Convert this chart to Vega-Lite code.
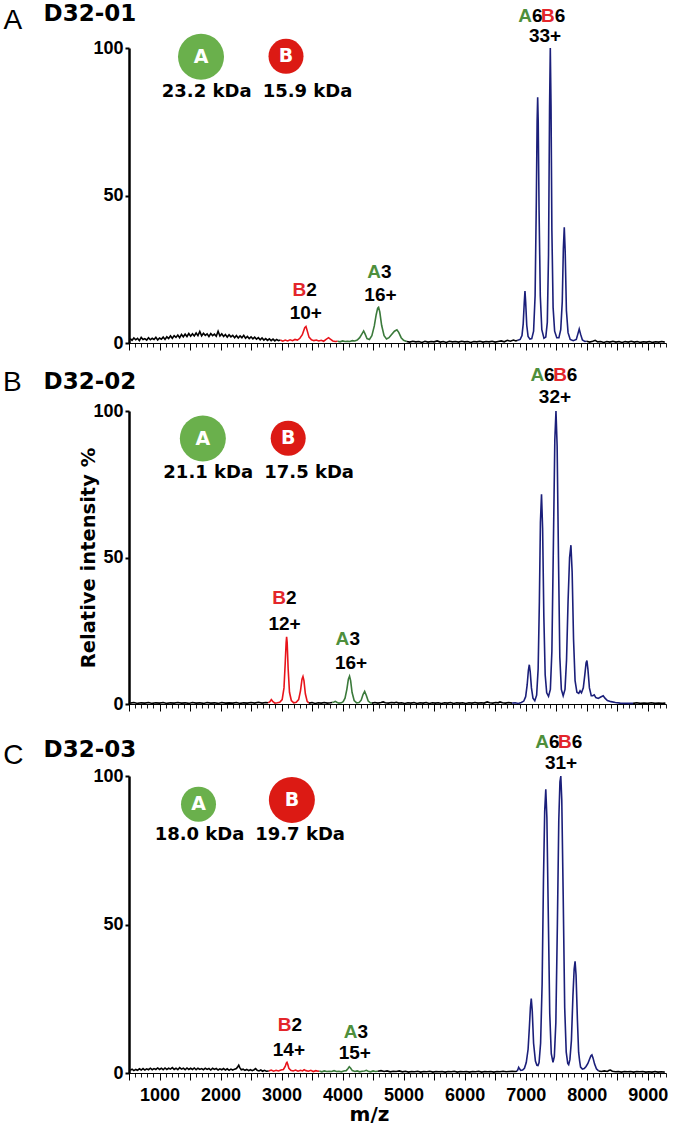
{
"$schema":"https://vega.github.io/schema/vega-lite/v6.json",
"background":"white",
"padding":{"left":3,"top":2,"right":2,"bottom":2},
"config":{"view":{"stroke":null},"axis":{"grid":false},"font":"Liberation Sans"},
"datasets":{
"sA":[
{"s":"n1","mz":520,"v":1.5},{"s":"n1","mz":550,"v":0.9},{"s":"n1","mz":580,"v":1.7},{"s":"n1","mz":610,"v":1.1},{"s":"n1","mz":640,"v":1.6},{"s":"n1","mz":670,"v":0.8},{"s":"n1","mz":700,"v":1.9},{"s":"n1","mz":730,"v":1.2},{"s":"n1","mz":760,"v":1.5},{"s":"n1","mz":790,"v":1.0},{"s":"n1","mz":820,"v":1.8},{"s":"n1","mz":850,"v":1.1},{"s":"n1","mz":880,"v":1.6},{"s":"n1","mz":910,"v":1.2},{"s":"n1","mz":940,"v":1.9},{"s":"n1","mz":970,"v":1.0},{"s":"n1","mz":1000,"v":1.7},{"s":"n1","mz":1030,"v":1.3},{"s":"n1","mz":1060,"v":2.0},{"s":"n1","mz":1090,"v":1.2},{"s":"n1","mz":1120,"v":2.1},{"s":"n1","mz":1150,"v":1.5},{"s":"n1","mz":1180,"v":2.4},{"s":"n1","mz":1210,"v":1.6},{"s":"n1","mz":1240,"v":2.5},{"s":"n1","mz":1270,"v":1.9},{"s":"n1","mz":1300,"v":2.7},{"s":"n1","mz":1330,"v":1.8},{"s":"n1","mz":1360,"v":2.9},{"s":"n1","mz":1390,"v":2.1},{"s":"n1","mz":1420,"v":3.0},{"s":"n1","mz":1450,"v":2.2},{"s":"n1","mz":1480,"v":3.2},{"s":"n1","mz":1510,"v":2.3},{"s":"n1","mz":1540,"v":3.1},{"s":"n1","mz":1570,"v":2.4},{"s":"n1","mz":1600,"v":3.4},{"s":"n1","mz":1630,"v":2.5},{"s":"n1","mz":1660,"v":3.9},{"s":"n1","mz":1690,"v":2.4},{"s":"n1","mz":1720,"v":3.3},{"s":"n1","mz":1750,"v":2.6},{"s":"n1","mz":1780,"v":3.1},{"s":"n1","mz":1810,"v":2.2},{"s":"n1","mz":1840,"v":3.2},{"s":"n1","mz":1870,"v":2.5},{"s":"n1","mz":1900,"v":3.0},{"s":"n1","mz":1930,"v":2.3},{"s":"n1","mz":1960,"v":4.0},{"s":"n1","mz":1990,"v":2.4},{"s":"n1","mz":2020,"v":3.1},{"s":"n1","mz":2050,"v":2.2},{"s":"n1","mz":2080,"v":2.9},{"s":"n1","mz":2110,"v":2.0},{"s":"n1","mz":2140,"v":2.8},{"s":"n1","mz":2170,"v":2.1},{"s":"n1","mz":2200,"v":2.6},{"s":"n1","mz":2230,"v":1.8},{"s":"n1","mz":2260,"v":2.5},{"s":"n1","mz":2290,"v":1.7},{"s":"n1","mz":2320,"v":2.4},{"s":"n1","mz":2350,"v":1.8},{"s":"n1","mz":2380,"v":2.6},{"s":"n1","mz":2410,"v":1.6},{"s":"n1","mz":2440,"v":2.2},{"s":"n1","mz":2470,"v":1.5},{"s":"n1","mz":2500,"v":2.1},{"s":"n1","mz":2530,"v":1.4},{"s":"n1","mz":2560,"v":2.0},{"s":"n1","mz":2590,"v":1.3},{"s":"n1","mz":2620,"v":1.8},{"s":"n1","mz":2650,"v":1.1},{"s":"n1","mz":2680,"v":1.7},{"s":"n1","mz":2710,"v":1.0},{"s":"n1","mz":2740,"v":1.5},{"s":"n1","mz":2770,"v":0.9},{"s":"n1","mz":2800,"v":1.4},{"s":"n1","mz":2830,"v":0.8},{"s":"n1","mz":2860,"v":1.3},{"s":"n1","mz":2890,"v":0.7},{"s":"n1","mz":2920,"v":1.2},{"s":"n1","mz":2950,"v":0.8},{"s":"n1","mz":2980,"v":1.0},
{"s":"B2","mz":2980,"v":1.0},{"s":"B2","mz":3020,"v":0.6},{"s":"B2","mz":3060,"v":1.0},{"s":"B2","mz":3100,"v":0.7},{"s":"B2","mz":3140,"v":1.1},{"s":"B2","mz":3180,"v":0.8},{"s":"B2","mz":3220,"v":1.2},{"s":"B2","mz":3260,"v":1.0},{"s":"B2","mz":3300,"v":1.6},{"s":"B2","mz":3340,"v":2.8},{"s":"B2","mz":3380,"v":5.2},{"s":"B2","mz":3400,"v":5.6},{"s":"B2","mz":3420,"v":4.2},{"s":"B2","mz":3450,"v":2.0},{"s":"B2","mz":3490,"v":1.1},{"s":"B2","mz":3530,"v":0.8},{"s":"B2","mz":3570,"v":1.0},{"s":"B2","mz":3610,"v":0.7},{"s":"B2","mz":3650,"v":0.9},{"s":"B2","mz":3690,"v":0.6},{"s":"B2","mz":3730,"v":1.2},{"s":"B2","mz":3770,"v":1.8},{"s":"B2","mz":3800,"v":1.3},{"s":"B2","mz":3840,"v":0.7},{"s":"B2","mz":3880,"v":0.5},{"s":"B2","mz":3920,"v":0.6},
{"s":"A3","mz":3920,"v":0.6},{"s":"A3","mz":3960,"v":0.4},{"s":"A3","mz":4000,"v":0.7},{"s":"A3","mz":4040,"v":0.5},{"s":"A3","mz":4080,"v":0.6},{"s":"A3","mz":4120,"v":0.5},{"s":"A3","mz":4160,"v":0.8},{"s":"A3","mz":4200,"v":0.7},{"s":"A3","mz":4240,"v":1.0},{"s":"A3","mz":4280,"v":1.8},{"s":"A3","mz":4320,"v":3.2},{"s":"A3","mz":4345,"v":4.1},{"s":"A3","mz":4370,"v":3.0},{"s":"A3","mz":4400,"v":1.5},{"s":"A3","mz":4440,"v":1.2},{"s":"A3","mz":4480,"v":2.5},{"s":"A3","mz":4520,"v":5.8},{"s":"A3","mz":4550,"v":9.5},{"s":"A3","mz":4575,"v":11.8},{"s":"A3","mz":4590,"v":12.1},{"s":"A3","mz":4610,"v":10.5},{"s":"A3","mz":4640,"v":6.0},{"s":"A3","mz":4680,"v":2.5},{"s":"A3","mz":4720,"v":1.4},{"s":"A3","mz":4760,"v":1.8},{"s":"A3","mz":4800,"v":2.8},{"s":"A3","mz":4850,"v":4.0},{"s":"A3","mz":4890,"v":4.5},{"s":"A3","mz":4920,"v":3.6},{"s":"A3","mz":4960,"v":1.8},{"s":"A3","mz":5000,"v":0.9},{"s":"A3","mz":5050,"v":0.5},
{"s":"n2","mz":5050,"v":0.5},{"s":"n2","mz":5100,"v":0.3},{"s":"n2","mz":5150,"v":0.6},{"s":"n2","mz":5200,"v":0.4},{"s":"n2","mz":5250,"v":0.5},{"s":"n2","mz":5300,"v":0.2},{"s":"n2","mz":5350,"v":0.6},{"s":"n2","mz":5400,"v":0.3},{"s":"n2","mz":5450,"v":0.5},{"s":"n2","mz":5500,"v":0.4},{"s":"n2","mz":5550,"v":0.7},{"s":"n2","mz":5600,"v":0.3},{"s":"n2","mz":5650,"v":0.5},{"s":"n2","mz":5700,"v":0.2},{"s":"n2","mz":5750,"v":0.6},{"s":"n2","mz":5800,"v":0.4},{"s":"n2","mz":5850,"v":0.5},{"s":"n2","mz":5900,"v":0.3},{"s":"n2","mz":5950,"v":0.6},{"s":"n2","mz":6000,"v":0.4},{"s":"n2","mz":6050,"v":0.5},{"s":"n2","mz":6100,"v":0.2},{"s":"n2","mz":6150,"v":0.5},{"s":"n2","mz":6200,"v":0.4},{"s":"n2","mz":6250,"v":0.6},{"s":"n2","mz":6300,"v":0.3},{"s":"n2","mz":6350,"v":0.5},{"s":"n2","mz":6400,"v":0.4},{"s":"n2","mz":6450,"v":0.6},{"s":"n2","mz":6500,"v":0.3},{"s":"n2","mz":6550,"v":0.5},{"s":"n2","mz":6600,"v":0.7},{"s":"n2","mz":6650,"v":0.4},{"s":"n2","mz":6700,"v":0.9},{"s":"n2","mz":6750,"v":0.6},{"s":"n2","mz":6800,"v":1.0},{"s":"n2","mz":6840,"v":0.7},{"s":"n2","mz":6870,"v":0.9},
{"s":"AB","mz":6870,"v":0.9},{"s":"AB","mz":6910,"v":1.2},{"s":"AB","mz":6940,"v":2.5},{"s":"AB","mz":6960,"v":6.5},{"s":"AB","mz":6978,"v":14.0},{"s":"AB","mz":6989,"v":17.6},{"s":"AB","mz":7000,"v":14.0},{"s":"AB","mz":7018,"v":6.0},{"s":"AB","mz":7040,"v":2.2},{"s":"AB","mz":7070,"v":1.3},{"s":"AB","mz":7100,"v":1.5},{"s":"AB","mz":7130,"v":4.0},{"s":"AB","mz":7155,"v":16.0},{"s":"AB","mz":7175,"v":48.0},{"s":"AB","mz":7188,"v":75.0},{"s":"AB","mz":7197,"v":83.3},{"s":"AB","mz":7206,"v":75.0},{"s":"AB","mz":7220,"v":45.0},{"s":"AB","mz":7240,"v":16.0},{"s":"AB","mz":7265,"v":4.5},{"s":"AB","mz":7300,"v":1.6},{"s":"AB","mz":7330,"v":2.0},{"s":"AB","mz":7355,"v":7.0},{"s":"AB","mz":7375,"v":30.0},{"s":"AB","mz":7392,"v":80.0},{"s":"AB","mz":7404,"v":100},{"s":"AB","mz":7416,"v":80.0},{"s":"AB","mz":7430,"v":38.0},{"s":"AB","mz":7450,"v":12.0},{"s":"AB","mz":7475,"v":4.0},{"s":"AB","mz":7510,"v":1.8},{"s":"AB","mz":7545,"v":1.8},{"s":"AB","mz":7575,"v":4.5},{"s":"AB","mz":7600,"v":14.0},{"s":"AB","mz":7618,"v":32.0},{"s":"AB","mz":7633,"v":39.2},{"s":"AB","mz":7648,"v":31.0},{"s":"AB","mz":7668,"v":11.0},{"s":"AB","mz":7695,"v":3.5},{"s":"AB","mz":7730,"v":1.2},{"s":"AB","mz":7780,"v":0.8},{"s":"AB","mz":7830,"v":1.2},{"s":"AB","mz":7855,"v":3.0},{"s":"AB","mz":7878,"v":4.7},{"s":"AB","mz":7900,"v":3.0},{"s":"AB","mz":7930,"v":1.0},{"s":"AB","mz":7970,"v":0.5},{"s":"AB","mz":8000,"v":0.6},
{"s":"n3","mz":8000,"v":0.6},{"s":"n3","mz":8050,"v":0.3},{"s":"n3","mz":8100,"v":0.6},{"s":"n3","mz":8140,"v":0.9},{"s":"n3","mz":8180,"v":0.4},{"s":"n3","mz":8230,"v":0.5},{"s":"n3","mz":8280,"v":0.2},{"s":"n3","mz":8330,"v":0.5},{"s":"n3","mz":8380,"v":0.3},{"s":"n3","mz":8430,"v":0.6},{"s":"n3","mz":8480,"v":0.3},{"s":"n3","mz":8530,"v":0.5},{"s":"n3","mz":8580,"v":0.2},{"s":"n3","mz":8630,"v":0.5},{"s":"n3","mz":8680,"v":0.3},{"s":"n3","mz":8730,"v":0.6},{"s":"n3","mz":8780,"v":0.3},{"s":"n3","mz":8830,"v":0.5},{"s":"n3","mz":8880,"v":0.2},{"s":"n3","mz":8930,"v":0.4},{"s":"n3","mz":8980,"v":0.3},{"s":"n3","mz":9030,"v":0.5},{"s":"n3","mz":9080,"v":0.2},{"s":"n3","mz":9130,"v":0.4},{"s":"n3","mz":9180,"v":0.3},{"s":"n3","mz":9230,"v":0.5},{"s":"n3","mz":9280,"v":0.3}
],
"sB":[
{"s":"n1","mz":520,"v":0.3},{"s":"n1","mz":580,"v":0.5},{"s":"n1","mz":640,"v":0.2},{"s":"n1","mz":700,"v":0.4},{"s":"n1","mz":760,"v":0.3},{"s":"n1","mz":820,"v":0.5},{"s":"n1","mz":880,"v":0.2},{"s":"n1","mz":940,"v":0.4},{"s":"n1","mz":1000,"v":0.3},{"s":"n1","mz":1060,"v":0.5},{"s":"n1","mz":1120,"v":0.2},{"s":"n1","mz":1180,"v":0.4},{"s":"n1","mz":1240,"v":0.3},{"s":"n1","mz":1300,"v":0.5},{"s":"n1","mz":1360,"v":0.3},{"s":"n1","mz":1420,"v":0.4},{"s":"n1","mz":1480,"v":0.2},{"s":"n1","mz":1540,"v":0.5},{"s":"n1","mz":1600,"v":0.3},{"s":"n1","mz":1660,"v":0.4},{"s":"n1","mz":1720,"v":0.2},{"s":"n1","mz":1780,"v":0.5},{"s":"n1","mz":1840,"v":0.3},{"s":"n1","mz":1900,"v":0.4},{"s":"n1","mz":1960,"v":0.2},{"s":"n1","mz":2020,"v":0.5},{"s":"n1","mz":2080,"v":0.3},{"s":"n1","mz":2140,"v":0.4},{"s":"n1","mz":2200,"v":0.3},{"s":"n1","mz":2260,"v":0.5},{"s":"n1","mz":2320,"v":0.2},{"s":"n1","mz":2380,"v":0.4},{"s":"n1","mz":2440,"v":0.3},{"s":"n1","mz":2500,"v":0.5},{"s":"n1","mz":2560,"v":0.3},{"s":"n1","mz":2620,"v":0.6},{"s":"n1","mz":2680,"v":0.3},{"s":"n1","mz":2740,"v":0.5},{"s":"n1","mz":2780,"v":0.4},
{"s":"B2","mz":2780,"v":0.4},{"s":"B2","mz":2810,"v":0.8},{"s":"B2","mz":2832,"v":1.5},{"s":"B2","mz":2855,"v":0.9},{"s":"B2","mz":2890,"v":0.3},{"s":"B2","mz":2930,"v":0.4},{"s":"B2","mz":2970,"v":0.6},{"s":"B2","mz":3010,"v":1.5},{"s":"B2","mz":3040,"v":5.5},{"s":"B2","mz":3060,"v":14.0},{"s":"B2","mz":3075,"v":21.0},{"s":"B2","mz":3083,"v":22.9},{"s":"B2","mz":3092,"v":21.0},{"s":"B2","mz":3108,"v":12.0},{"s":"B2","mz":3130,"v":4.0},{"s":"B2","mz":3160,"v":1.2},{"s":"B2","mz":3200,"v":0.4},{"s":"B2","mz":3240,"v":0.6},{"s":"B2","mz":3280,"v":1.5},{"s":"B2","mz":3310,"v":4.5},{"s":"B2","mz":3335,"v":8.5},{"s":"B2","mz":3351,"v":9.4},{"s":"B2","mz":3367,"v":8.0},{"s":"B2","mz":3390,"v":3.5},{"s":"B2","mz":3420,"v":0.9},{"s":"B2","mz":3450,"v":0.3},
{"s":"n2","mz":3450,"v":0.3},{"s":"n2","mz":3500,"v":0.5},{"s":"n2","mz":3550,"v":0.2},{"s":"n2","mz":3600,"v":0.4},{"s":"n2","mz":3650,"v":0.3},{"s":"n2","mz":3700,"v":0.5},{"s":"n2","mz":3750,"v":0.3},{"s":"n2","mz":3800,"v":0.4},{"s":"n2","mz":3830,"v":0.5},
{"s":"A3","mz":3830,"v":0.5},{"s":"A3","mz":3860,"v":0.7},{"s":"A3","mz":3880,"v":0.9},{"s":"A3","mz":3905,"v":0.6},{"s":"A3","mz":3940,"v":0.3},{"s":"A3","mz":3980,"v":0.4},{"s":"A3","mz":4010,"v":0.8},{"s":"A3","mz":4040,"v":2.0},{"s":"A3","mz":4070,"v":5.0},{"s":"A3","mz":4095,"v":8.5},{"s":"A3","mz":4114,"v":9.5},{"s":"A3","mz":4132,"v":8.0},{"s":"A3","mz":4155,"v":4.0},{"s":"A3","mz":4190,"v":1.2},{"s":"A3","mz":4230,"v":0.4},{"s":"A3","mz":4270,"v":0.5},{"s":"A3","mz":4305,"v":1.3},{"s":"A3","mz":4335,"v":3.2},{"s":"A3","mz":4362,"v":4.3},{"s":"A3","mz":4388,"v":3.0},{"s":"A3","mz":4420,"v":1.0},{"s":"A3","mz":4455,"v":0.4},{"s":"A3","mz":4480,"v":0.3},
{"s":"n3","mz":4480,"v":0.3},{"s":"n3","mz":4530,"v":0.5},{"s":"n3","mz":4580,"v":0.3},{"s":"n3","mz":4630,"v":0.5},{"s":"n3","mz":4665,"v":0.7},{"s":"n3","mz":4700,"v":0.4},{"s":"n3","mz":4750,"v":0.3},{"s":"n3","mz":4800,"v":0.5},{"s":"n3","mz":4850,"v":0.4},{"s":"n3","mz":4880,"v":0.6},{"s":"n3","mz":4920,"v":0.3},{"s":"n3","mz":4970,"v":0.4},{"s":"n3","mz":5020,"v":0.2},{"s":"n3","mz":5070,"v":0.4},{"s":"n3","mz":5120,"v":0.3},{"s":"n3","mz":5170,"v":0.5},{"s":"n3","mz":5220,"v":0.2},{"s":"n3","mz":5270,"v":0.4},{"s":"n3","mz":5320,"v":0.3},{"s":"n3","mz":5370,"v":0.5},{"s":"n3","mz":5420,"v":0.2},{"s":"n3","mz":5470,"v":0.4},{"s":"n3","mz":5520,"v":0.3},{"s":"n3","mz":5570,"v":0.4},{"s":"n3","mz":5620,"v":0.2},{"s":"n3","mz":5670,"v":0.4},{"s":"n3","mz":5720,"v":0.3},{"s":"n3","mz":5770,"v":0.5},{"s":"n3","mz":5820,"v":0.2},{"s":"n3","mz":5870,"v":0.4},{"s":"n3","mz":5920,"v":0.3},{"s":"n3","mz":5970,"v":0.4},{"s":"n3","mz":6020,"v":0.2},{"s":"n3","mz":6070,"v":0.4},{"s":"n3","mz":6120,"v":0.3},{"s":"n3","mz":6170,"v":0.5},{"s":"n3","mz":6220,"v":0.3},{"s":"n3","mz":6270,"v":0.4},{"s":"n3","mz":6320,"v":0.3},{"s":"n3","mz":6370,"v":0.7},{"s":"n3","mz":6410,"v":0.4},{"s":"n3","mz":6460,"v":0.3},{"s":"n3","mz":6510,"v":0.5},{"s":"n3","mz":6550,"v":0.4},{"s":"n3","mz":6580,"v":0.7},{"s":"n3","mz":6620,"v":0.4},{"s":"n3","mz":6670,"v":0.3},{"s":"n3","mz":6720,"v":0.5},{"s":"n3","mz":6780,"v":0.3},
{"s":"AB","mz":6780,"v":0.3},{"s":"AB","mz":6830,"v":0.4},{"s":"AB","mz":6880,"v":0.2},{"s":"AB","mz":6930,"v":0.5},{"s":"AB","mz":6970,"v":1.0},{"s":"AB","mz":7000,"v":2.5},{"s":"AB","mz":7025,"v":6.5},{"s":"AB","mz":7045,"v":11.5},{"s":"AB","mz":7060,"v":13.4},{"s":"AB","mz":7075,"v":11.0},{"s":"AB","mz":7095,"v":5.5},{"s":"AB","mz":7120,"v":2.0},{"s":"AB","mz":7150,"v":1.1},{"s":"AB","mz":7180,"v":3.0},{"s":"AB","mz":7205,"v":12.0},{"s":"AB","mz":7225,"v":35.0},{"s":"AB","mz":7242,"v":62.0},{"s":"AB","mz":7260,"v":71.6},{"s":"AB","mz":7278,"v":60.0},{"s":"AB","mz":7298,"v":30.0},{"s":"AB","mz":7320,"v":10.0},{"s":"AB","mz":7345,"v":3.8},{"s":"AB","mz":7375,"v":2.6},{"s":"AB","mz":7405,"v":5.0},{"s":"AB","mz":7430,"v":18.0},{"s":"AB","mz":7455,"v":55.0},{"s":"AB","mz":7478,"v":90.0},{"s":"AB","mz":7497,"v":100},{"s":"AB","mz":7516,"v":88.0},{"s":"AB","mz":7538,"v":50.0},{"s":"AB","mz":7560,"v":16.0},{"s":"AB","mz":7585,"v":5.0},{"s":"AB","mz":7615,"v":2.8},{"s":"AB","mz":7645,"v":5.0},{"s":"AB","mz":7670,"v":15.0},{"s":"AB","mz":7695,"v":35.0},{"s":"AB","mz":7720,"v":50.0},{"s":"AB","mz":7742,"v":54.2},{"s":"AB","mz":7762,"v":45.0},{"s":"AB","mz":7785,"v":22.0},{"s":"AB","mz":7810,"v":8.0},{"s":"AB","mz":7840,"v":4.0},{"s":"AB","mz":7870,"v":3.6},{"s":"AB","mz":7892,"v":4.5},{"s":"AB","mz":7915,"v":3.8},{"s":"AB","mz":7945,"v":5.5},{"s":"AB","mz":7970,"v":10.0},{"s":"AB","mz":7990,"v":14.0},{"s":"AB","mz":8004,"v":14.8},{"s":"AB","mz":8020,"v":12.0},{"s":"AB","mz":8045,"v":5.5},{"s":"AB","mz":8075,"v":2.8},{"s":"AB","mz":8100,"v":2.8},{"s":"AB","mz":8124,"v":3.1},{"s":"AB","mz":8150,"v":2.2},{"s":"AB","mz":8190,"v":1.9},{"s":"AB","mz":8230,"v":2.4},{"s":"AB","mz":8271,"v":2.8},{"s":"AB","mz":8300,"v":2.0},{"s":"AB","mz":8340,"v":1.2},{"s":"AB","mz":8400,"v":0.8},{"s":"AB","mz":8470,"v":0.5},{"s":"AB","mz":8550,"v":0.3},{"s":"AB","mz":8650,"v":0.2},{"s":"AB","mz":8760,"v":0.2},
{"s":"n4","mz":8760,"v":0.2},{"s":"n4","mz":8820,"v":0.4},{"s":"n4","mz":8880,"v":0.2},{"s":"n4","mz":8940,"v":0.3},{"s":"n4","mz":9000,"v":0.2},{"s":"n4","mz":9060,"v":0.4},{"s":"n4","mz":9120,"v":0.2},{"s":"n4","mz":9180,"v":0.3},{"s":"n4","mz":9240,"v":0.2},{"s":"n4","mz":9290,"v":0.3}
],
"sC":[
{"s":"n1","mz":520,"v":0.9},{"s":"n1","mz":550,"v":1.3},{"s":"n1","mz":580,"v":0.8},{"s":"n1","mz":610,"v":1.2},{"s":"n1","mz":640,"v":0.9},{"s":"n1","mz":670,"v":1.4},{"s":"n1","mz":700,"v":1.0},{"s":"n1","mz":730,"v":1.5},{"s":"n1","mz":760,"v":1.0},{"s":"n1","mz":790,"v":1.4},{"s":"n1","mz":820,"v":1.1},{"s":"n1","mz":850,"v":1.6},{"s":"n1","mz":880,"v":1.1},{"s":"n1","mz":910,"v":1.5},{"s":"n1","mz":940,"v":1.2},{"s":"n1","mz":970,"v":1.7},{"s":"n1","mz":1000,"v":1.2},{"s":"n1","mz":1030,"v":1.6},{"s":"n1","mz":1060,"v":1.1},{"s":"n1","mz":1090,"v":1.7},{"s":"n1","mz":1120,"v":1.2},{"s":"n1","mz":1150,"v":1.6},{"s":"n1","mz":1180,"v":1.3},{"s":"n1","mz":1210,"v":1.8},{"s":"n1","mz":1240,"v":1.2},{"s":"n1","mz":1270,"v":1.6},{"s":"n1","mz":1300,"v":1.1},{"s":"n1","mz":1330,"v":1.8},{"s":"n1","mz":1360,"v":1.3},{"s":"n1","mz":1390,"v":1.6},{"s":"n1","mz":1420,"v":1.1},{"s":"n1","mz":1450,"v":1.7},{"s":"n1","mz":1480,"v":1.2},{"s":"n1","mz":1510,"v":1.6},{"s":"n1","mz":1540,"v":1.2},{"s":"n1","mz":1570,"v":1.7},{"s":"n1","mz":1600,"v":1.1},{"s":"n1","mz":1630,"v":1.6},{"s":"n1","mz":1660,"v":1.2},{"s":"n1","mz":1690,"v":1.5},{"s":"n1","mz":1720,"v":1.1},{"s":"n1","mz":1750,"v":1.6},{"s":"n1","mz":1780,"v":1.2},{"s":"n1","mz":1810,"v":1.5},{"s":"n1","mz":1840,"v":1.0},{"s":"n1","mz":1870,"v":1.6},{"s":"n1","mz":1900,"v":1.2},{"s":"n1","mz":1930,"v":1.5},{"s":"n1","mz":1960,"v":1.0},{"s":"n1","mz":1990,"v":1.4},{"s":"n1","mz":2020,"v":1.1},{"s":"n1","mz":2050,"v":1.5},{"s":"n1","mz":2080,"v":1.0},{"s":"n1","mz":2110,"v":1.4},{"s":"n1","mz":2140,"v":0.9},{"s":"n1","mz":2170,"v":1.3},{"s":"n1","mz":2200,"v":1.0},{"s":"n1","mz":2230,"v":1.3},{"s":"n1","mz":2260,"v":1.5},{"s":"n1","mz":2285,"v":2.2},{"s":"n1","mz":2298,"v":2.6},{"s":"n1","mz":2315,"v":1.8},{"s":"n1","mz":2340,"v":1.1},{"s":"n1","mz":2370,"v":1.3},{"s":"n1","mz":2400,"v":0.9},{"s":"n1","mz":2430,"v":1.2},{"s":"n1","mz":2460,"v":0.8},{"s":"n1","mz":2490,"v":1.1},{"s":"n1","mz":2520,"v":0.8},{"s":"n1","mz":2550,"v":1.1},{"s":"n1","mz":2575,"v":1.5},{"s":"n1","mz":2600,"v":0.9},{"s":"n1","mz":2630,"v":0.7},{"s":"n1","mz":2660,"v":1.0},{"s":"n1","mz":2690,"v":0.6},{"s":"n1","mz":2720,"v":0.9},{"s":"n1","mz":2750,"v":0.6},{"s":"n1","mz":2790,"v":0.7},
{"s":"B2","mz":2790,"v":0.7},{"s":"B2","mz":2830,"v":1.0},{"s":"B2","mz":2870,"v":0.6},{"s":"B2","mz":2910,"v":0.9},{"s":"B2","mz":2950,"v":0.7},{"s":"B2","mz":2990,"v":1.0},{"s":"B2","mz":3030,"v":1.2},{"s":"B2","mz":3060,"v":2.2},{"s":"B2","mz":3078,"v":3.3},{"s":"B2","mz":3089,"v":3.6},{"s":"B2","mz":3100,"v":3.0},{"s":"B2","mz":3120,"v":1.6},{"s":"B2","mz":3150,"v":0.9},{"s":"B2","mz":3190,"v":0.7},{"s":"B2","mz":3230,"v":1.0},{"s":"B2","mz":3270,"v":0.6},{"s":"B2","mz":3310,"v":0.9},{"s":"B2","mz":3345,"v":0.7},{"s":"B2","mz":3370,"v":1.1},{"s":"B2","mz":3400,"v":0.8},{"s":"B2","mz":3440,"v":0.6},{"s":"B2","mz":3480,"v":0.9},{"s":"B2","mz":3520,"v":0.5},{"s":"B2","mz":3560,"v":0.8},{"s":"B2","mz":3600,"v":0.6},{"s":"B2","mz":3620,"v":0.7},
{"s":"A3","mz":3620,"v":0.7},{"s":"A3","mz":3660,"v":0.4},{"s":"A3","mz":3700,"v":0.7},{"s":"A3","mz":3740,"v":0.5},{"s":"A3","mz":3780,"v":0.6},{"s":"A3","mz":3820,"v":0.5},{"s":"A3","mz":3860,"v":0.8},{"s":"A3","mz":3900,"v":0.5},{"s":"A3","mz":3940,"v":0.6},{"s":"A3","mz":3980,"v":0.4},{"s":"A3","mz":4020,"v":0.7},{"s":"A3","mz":4060,"v":0.8},{"s":"A3","mz":4090,"v":1.5},{"s":"A3","mz":4110,"v":2.1},{"s":"A3","mz":4130,"v":1.7},{"s":"A3","mz":4160,"v":0.8},{"s":"A3","mz":4200,"v":0.5},{"s":"A3","mz":4240,"v":0.7},{"s":"A3","mz":4280,"v":0.4},{"s":"A3","mz":4320,"v":0.6},{"s":"A3","mz":4360,"v":0.7},{"s":"A3","mz":4390,"v":0.9},{"s":"A3","mz":4420,"v":0.6},{"s":"A3","mz":4460,"v":0.4},{"s":"A3","mz":4500,"v":0.7},{"s":"A3","mz":4540,"v":0.5},{"s":"A3","mz":4580,"v":0.6},
{"s":"n2","mz":4580,"v":0.6},{"s":"n2","mz":4630,"v":0.8},{"s":"n2","mz":4680,"v":0.5},{"s":"n2","mz":4730,"v":0.7},{"s":"n2","mz":4780,"v":0.4},{"s":"n2","mz":4830,"v":0.6},{"s":"n2","mz":4880,"v":0.5},{"s":"n2","mz":4930,"v":0.7},{"s":"n2","mz":4980,"v":0.4},{"s":"n2","mz":5030,"v":0.6},{"s":"n2","mz":5080,"v":0.3},{"s":"n2","mz":5130,"v":0.5},{"s":"n2","mz":5180,"v":0.4},{"s":"n2","mz":5230,"v":0.6},{"s":"n2","mz":5280,"v":0.3},{"s":"n2","mz":5330,"v":0.5},{"s":"n2","mz":5380,"v":0.4},{"s":"n2","mz":5430,"v":0.6},{"s":"n2","mz":5480,"v":0.3},{"s":"n2","mz":5530,"v":0.5},{"s":"n2","mz":5580,"v":0.4},{"s":"n2","mz":5630,"v":0.5},{"s":"n2","mz":5680,"v":0.3},{"s":"n2","mz":5730,"v":0.5},{"s":"n2","mz":5780,"v":0.4},{"s":"n2","mz":5830,"v":0.6},{"s":"n2","mz":5880,"v":0.3},{"s":"n2","mz":5930,"v":0.5},{"s":"n2","mz":5980,"v":0.4},{"s":"n2","mz":6030,"v":0.5},{"s":"n2","mz":6080,"v":0.3},{"s":"n2","mz":6130,"v":0.5},{"s":"n2","mz":6180,"v":0.4},{"s":"n2","mz":6230,"v":0.6},{"s":"n2","mz":6280,"v":0.3},{"s":"n2","mz":6330,"v":0.5},{"s":"n2","mz":6380,"v":0.4},{"s":"n2","mz":6430,"v":0.5},{"s":"n2","mz":6480,"v":0.3},{"s":"n2","mz":6530,"v":0.5},{"s":"n2","mz":6580,"v":0.4},{"s":"n2","mz":6630,"v":0.6},{"s":"n2","mz":6680,"v":0.4},{"s":"n2","mz":6730,"v":0.5},{"s":"n2","mz":6780,"v":0.6},{"s":"n2","mz":6830,"v":0.5},{"s":"n2","mz":6860,"v":0.6},
{"s":"AB","mz":6860,"v":0.6},{"s":"AB","mz":6875,"v":1.3},{"s":"AB","mz":6886,"v":1.9},{"s":"AB","mz":6900,"v":1.4},{"s":"AB","mz":6920,"v":0.9},{"s":"AB","mz":6950,"v":1.0},{"s":"AB","mz":6980,"v":1.6},{"s":"AB","mz":7010,"v":3.5},{"s":"AB","mz":7040,"v":8.0},{"s":"AB","mz":7060,"v":15.0},{"s":"AB","mz":7078,"v":22.0},{"s":"AB","mz":7092,"v":25.1},{"s":"AB","mz":7108,"v":21.0},{"s":"AB","mz":7130,"v":10.0},{"s":"AB","mz":7160,"v":4.0},{"s":"AB","mz":7185,"v":2.6},{"s":"AB","mz":7202,"v":2.5},{"s":"AB","mz":7220,"v":3.5},{"s":"AB","mz":7245,"v":10.0},{"s":"AB","mz":7270,"v":30.0},{"s":"AB","mz":7292,"v":65.0},{"s":"AB","mz":7312,"v":88.0},{"s":"AB","mz":7330,"v":95.5},{"s":"AB","mz":7348,"v":86.0},{"s":"AB","mz":7370,"v":55.0},{"s":"AB","mz":7395,"v":20.0},{"s":"AB","mz":7420,"v":6.5},{"s":"AB","mz":7448,"v":3.6},{"s":"AB","mz":7470,"v":5.5},{"s":"AB","mz":7495,"v":17.0},{"s":"AB","mz":7520,"v":50.0},{"s":"AB","mz":7543,"v":85.0},{"s":"AB","mz":7562,"v":98.0},{"s":"AB","mz":7576,"v":100},{"s":"AB","mz":7592,"v":92.0},{"s":"AB","mz":7615,"v":60.0},{"s":"AB","mz":7640,"v":22.0},{"s":"AB","mz":7665,"v":7.0},{"s":"AB","mz":7690,"v":3.2},{"s":"AB","mz":7705,"v":2.8},{"s":"AB","mz":7725,"v":4.5},{"s":"AB","mz":7750,"v":11.0},{"s":"AB","mz":7775,"v":26.0},{"s":"AB","mz":7795,"v":35.0},{"s":"AB","mz":7810,"v":37.6},{"s":"AB","mz":7826,"v":33.0},{"s":"AB","mz":7848,"v":18.0},{"s":"AB","mz":7868,"v":7.0},{"s":"AB","mz":7885,"v":4.0},{"s":"AB","mz":7900,"v":2.0},{"s":"AB","mz":7930,"v":1.3},{"s":"AB","mz":7960,"v":1.5},{"s":"AB","mz":7990,"v":2.2},{"s":"AB","mz":8020,"v":3.2},{"s":"AB","mz":8050,"v":4.8},{"s":"AB","mz":8070,"v":5.8},{"s":"AB","mz":8086,"v":6.1},{"s":"AB","mz":8105,"v":5.0},{"s":"AB","mz":8130,"v":3.0},{"s":"AB","mz":8160,"v":1.4},{"s":"AB","mz":8195,"v":0.7},
{"s":"n3","mz":8195,"v":0.7},{"s":"n3","mz":8240,"v":0.5},{"s":"n3","mz":8290,"v":0.7},{"s":"n3","mz":8340,"v":0.5},{"s":"n3","mz":8370,"v":0.9},{"s":"n3","mz":8390,"v":1.0},{"s":"n3","mz":8420,"v":0.6},{"s":"n3","mz":8470,"v":0.4},{"s":"n3","mz":8520,"v":0.5},{"s":"n3","mz":8570,"v":0.3},{"s":"n3","mz":8620,"v":0.5},{"s":"n3","mz":8670,"v":0.4},{"s":"n3","mz":8720,"v":0.5},{"s":"n3","mz":8770,"v":0.3},{"s":"n3","mz":8820,"v":0.5},{"s":"n3","mz":8870,"v":0.4},{"s":"n3","mz":8920,"v":0.5},{"s":"n3","mz":8970,"v":0.3},{"s":"n3","mz":9020,"v":0.4},{"s":"n3","mz":9070,"v":0.3},{"s":"n3","mz":9120,"v":0.5},{"s":"n3","mz":9170,"v":0.3},{"s":"n3","mz":9220,"v":0.4},{"s":"n3","mz":9280,"v":0.3}
],
"tA":[
{"k":"panel","t":"A","mz":-1403,"v":106.5},
{"k":"title","t":"D32-01","mz":-900,"v":109.2},
{"k":"circ","t":"A","mz":1680,"v":97.0,"kDa":23.2},
{"k":"circ","t":"B","mz":3073,"v":97.2,"kDa":15.9},
{"k":"kda","t":"23.2 kDa","mz":1773,"v":83.3},
{"k":"kda","t":"15.9 kDa","mz":3426,"v":83.3},
{"k":"ann","t":"B","c":"B","mz":3290,"v":15.9},
{"k":"ann","t":"2","c":"k","mz":3490,"v":15.9},
{"k":"ann","t":"10+","c":"k","mz":3397,"v":8.3},
{"k":"ann","t":"A","c":"A","mz":4515,"v":21.9},
{"k":"ann","t":"3","c":"k","mz":4715,"v":21.9},
{"k":"ann","t":"16+","c":"k","mz":4621,"v":14.2},
{"k":"ann","t":"A","c":"A","mz":6990,"v":108.8},
{"k":"ann","t":"6","c":"k","mz":7189,"v":108.8},
{"k":"ann","t":"B","c":"B","mz":7363,"v":108.8},
{"k":"ann","t":"6","c":"k","mz":7562,"v":108.8},
{"k":"ann","t":"33+","c":"k","mz":7317,"v":102.0}
],
"tB":[
{"k":"panel","t":"B","mz":-1410,"v":106.8},
{"k":"title","t":"D32-02","mz":-900,"v":107.4},
{"k":"circ","t":"A","mz":1710,"v":90.6,"kDa":21.1},
{"k":"circ","t":"B","mz":3109,"v":90.7,"kDa":17.5},
{"k":"kda","t":"21.1 kDa","mz":1798,"v":77.3},
{"k":"kda","t":"17.5 kDa","mz":3452,"v":77.3},
{"k":"ann","t":"B","c":"B","mz":2958,"v":34.1},
{"k":"ann","t":"2","c":"k","mz":3158,"v":34.1},
{"k":"ann","t":"12+","c":"k","mz":3048,"v":25.2},
{"k":"ann","t":"A","c":"A","mz":3998,"v":20.2},
{"k":"ann","t":"3","c":"k","mz":4198,"v":20.2},
{"k":"ann","t":"16+","c":"k","mz":4139,"v":11.9},
{"k":"ann","t":"A","c":"A","mz":7190,"v":110.2},
{"k":"ann","t":"6","c":"k","mz":7389,"v":110.2},
{"k":"ann","t":"B","c":"B","mz":7563,"v":110.2},
{"k":"ann","t":"6","c":"k","mz":7762,"v":110.2},
{"k":"ann","t":"32+","c":"k","mz":7480,"v":102.8}
],
"tC":[
{"k":"panel","t":"C","mz":-1396,"v":104.1},
{"k":"title","t":"D32-03","mz":-900,"v":106.4},
{"k":"circ","t":"A","mz":1639,"v":90.5,"kDa":18.0},
{"k":"circ","t":"B","mz":3169,"v":91.9,"kDa":19.7},
{"k":"kda","t":"18.0 kDa","mz":1656,"v":78.4},
{"k":"kda","t":"19.7 kDa","mz":3304,"v":78.4},
{"k":"ann","t":"B","c":"B","mz":3050,"v":14.2},
{"k":"ann","t":"2","c":"k","mz":3250,"v":14.2},
{"k":"ann","t":"14+","c":"k","mz":3120,"v":5.8},
{"k":"ann","t":"A","c":"A","mz":4130,"v":11.7},
{"k":"ann","t":"3","c":"k","mz":4330,"v":11.7},
{"k":"ann","t":"15+","c":"k","mz":4200,"v":4.7},
{"k":"ann","t":"A","c":"A","mz":7270,"v":109.5},
{"k":"ann","t":"6","c":"k","mz":7469,"v":109.5},
{"k":"ann","t":"B","c":"B","mz":7643,"v":109.5},
{"k":"ann","t":"6","c":"k","mz":7842,"v":109.5},
{"k":"ann","t":"31+","c":"k","mz":7580,"v":102.3}
]
},
"spacing":68,
"bounds":"flush",
"vconcat":[
{
"width":537,"height":295,
"layer":[
{"data":{"name":"sA"},"mark":{"type":"line","strokeWidth":1.6},
"encoding":{
"x":{"field":"mz","type":"quantitative","scale":{"domain":[500,9300],"nice":false,"zero":false},"axis":{"values":[500,1000,1500,2000,2500,3000,3500,4000,4500,5000,5500,6000,6500,7000,7500,8000,8500,9000],"labels":false,"title":null,"tickSize":7,"tickWidth":1,"tickColor":"#000","domainColor":"#000","domainWidth":1.2}},
"y":{"field":"v","type":"quantitative","scale":{"domain":[0,100],"nice":false,"zero":false},"axis":{"values":[0,50,100],"format":"d","title":null,"domainWidth":2.5,"domainColor":"#000","tickWidth":2,"tickSize":4,"tickColor":"#000","labelFont":"Liberation Sans","labelFontWeight":"bold","labelFontSize":18,"labelColor":"#000","labelPadding":2}},
"color":{"field":"s","type":"nominal","scale":{"domain":["n1","n2","n3","n4","B2","A3","AB"],"range":["#000000","#000000","#000000","#000000","#e8141b","#3b7a3b","#1b1f7a"]},"legend":null}}},
{"data":{"name":"tA"},"transform":[{"filter":"datum.k==='circ'"}],"mark":{"type":"point","shape":"circle","filled":true,"opacity":1,"strokeWidth":0},
"encoding":{
"x":{"field":"mz","type":"quantitative","scale":{"domain":[500,9300],"nice":false,"zero":false},"axis":{"orient":"bottom","values":[500,600,700,800,900,1000,1100,1200,1300,1400,1500,1600,1700,1800,1900,2000,2100,2200,2300,2400,2500,2600,2700,2800,2900,3000,3100,3200,3300,3400,3500,3600,3700,3800,3900,4000,4100,4200,4300,4400,4500,4600,4700,4800,4900,5000,5100,5200,5300,5400,5500,5600,5700,5800,5900,6000,6100,6200,6300,6400,6500,6600,6700,6800,6900,7000,7100,7200,7300,7400,7500,7600,7700,7800,7900,8000,8100,8200,8300,8400,8500,8600,8700,8800,8900,9000,9100,9200,9300],"labels":false,"domain":false,"title":null,"tickSize":4,"tickWidth":0.9,"tickColor":"#000"}},
"y":{"field":"v","type":"quantitative","scale":{"domain":[0,100],"nice":false,"zero":false}},
"size":{"field":"kDa","type":"quantitative","scale":{"domain":[18.5,19.5],"range":[1225,2116],"clamp":true,"zero":false},"legend":null},
"color":{"field":"t","type":"nominal","scale":{"domain":["A","B"],"range":["#6ab04c","#dc1a14"]},"legend":null}}},
{"data":{"name":"tA"},"transform":[{"filter":"datum.k==='circ'"}],"mark":{"type":"text","font":"DejaVu Sans","fontWeight":"bold","fontSize":19,"align":"center","baseline":"middle","color":"#ffffff"},
"encoding":{"x":{"field":"mz","type":"quantitative","scale":{"domain":[500,9300],"nice":false,"zero":false},"axis":null},"y":{"field":"v","type":"quantitative","scale":{"domain":[0,100],"nice":false,"zero":false}},"text":{"field":"t"}}},
{"data":{"name":"tA"},"transform":[{"filter":"datum.k==='kda'"}],"mark":{"type":"text","font":"DejaVu Sans","fontWeight":"bold","fontSize":18,"align":"center","baseline":"alphabetic","color":"#000000"},
"encoding":{"x":{"field":"mz","type":"quantitative","scale":{"domain":[500,9300],"nice":false,"zero":false},"axis":null},"y":{"field":"v","type":"quantitative","scale":{"domain":[0,100],"nice":false,"zero":false}},"text":{"field":"t"}}},
{"data":{"name":"tA"},"transform":[{"filter":"datum.k==='ann'"}],"mark":{"type":"text","font":"Liberation Sans","fontWeight":"bold","fontSize":19,"align":"center","baseline":"alphabetic"},
"encoding":{"x":{"field":"mz","type":"quantitative","scale":{"domain":[500,9300],"nice":false,"zero":false},"axis":null},"y":{"field":"v","type":"quantitative","scale":{"domain":[0,100],"nice":false,"zero":false}},"text":{"field":"t"},
"color":{"field":"c","type":"nominal","scale":{"domain":["A","B","k"],"range":["#4e8f3c","#e3262b","#000000"]},"legend":null}}},
{"data":{"name":"tA"},"transform":[{"filter":"datum.k==='panel'"}],"mark":{"type":"text","font":"Liberation Sans","fontWeight":"normal","fontSize":28,"align":"center","baseline":"alphabetic","color":"#000000"},
"encoding":{"x":{"field":"mz","type":"quantitative","scale":{"domain":[500,9300],"nice":false,"zero":false},"axis":null},"y":{"field":"v","type":"quantitative","scale":{"domain":[0,100],"nice":false,"zero":false}},"text":{"field":"t"}}},
{"data":{"name":"tA"},"transform":[{"filter":"datum.k==='title'"}],"mark":{"type":"text","font":"DejaVu Sans","fontWeight":"bold","fontSize":23,"align":"left","baseline":"alphabetic","color":"#000000"},
"encoding":{"x":{"field":"mz","type":"quantitative","scale":{"domain":[500,9300],"nice":false,"zero":false},"axis":null},"y":{"field":"v","type":"quantitative","scale":{"domain":[0,100],"nice":false,"zero":false}},"text":{"field":"t"}}}
],
"resolve":{"scale":{"color":"independent"},"axis":{"x":"independent"}}
},
{
"spacing":72,
"bounds":"flush",
"vconcat":[
{
"width":537,"height":293,
"layer":[
{"data":{"name":"sB"},"mark":{"type":"line","strokeWidth":1.6},
"encoding":{
"x":{"field":"mz","type":"quantitative","scale":{"domain":[500,9300],"nice":false,"zero":false},"axis":{"values":[500,1000,1500,2000,2500,3000,3500,4000,4500,5000,5500,6000,6500,7000,7500,8000,8500,9000],"labels":false,"title":null,"tickSize":7,"tickWidth":1,"tickColor":"#000","domainColor":"#000","domainWidth":1.2}},
"y":{"field":"v","type":"quantitative","scale":{"domain":[0,100],"nice":false,"zero":false},"axis":{"values":[0,50,100],"format":"d","title":"Relative intensity %","titleFont":"DejaVu Sans","titleFontWeight":"bold","titleFontSize":19.5,"titleColor":"#000","titlePadding":-6,"domainWidth":2.5,"domainColor":"#000","tickWidth":2,"tickSize":4,"tickColor":"#000","labelFont":"Liberation Sans","labelFontWeight":"bold","labelFontSize":18,"labelColor":"#000","labelPadding":2}},
"color":{"field":"s","type":"nominal","scale":{"domain":["n1","n2","n3","n4","B2","A3","AB"],"range":["#000000","#000000","#000000","#000000","#e8141b","#3b7a3b","#1b1f7a"]},"legend":null}}},
{"data":{"name":"tB"},"transform":[{"filter":"datum.k==='circ'"}],"mark":{"type":"point","shape":"circle","filled":true,"opacity":1,"strokeWidth":0},
"encoding":{
"x":{"field":"mz","type":"quantitative","scale":{"domain":[500,9300],"nice":false,"zero":false},"axis":{"orient":"bottom","values":[500,600,700,800,900,1000,1100,1200,1300,1400,1500,1600,1700,1800,1900,2000,2100,2200,2300,2400,2500,2600,2700,2800,2900,3000,3100,3200,3300,3400,3500,3600,3700,3800,3900,4000,4100,4200,4300,4400,4500,4600,4700,4800,4900,5000,5100,5200,5300,5400,5500,5600,5700,5800,5900,6000,6100,6200,6300,6400,6500,6600,6700,6800,6900,7000,7100,7200,7300,7400,7500,7600,7700,7800,7900,8000,8100,8200,8300,8400,8500,8600,8700,8800,8900,9000,9100,9200,9300],"labels":false,"domain":false,"title":null,"tickSize":4,"tickWidth":0.9,"tickColor":"#000"}},
"y":{"field":"v","type":"quantitative","scale":{"domain":[0,100],"nice":false,"zero":false}},
"size":{"field":"kDa","type":"quantitative","scale":{"domain":[18.5,19.5],"range":[1225,2116],"clamp":true,"zero":false},"legend":null},
"color":{"field":"t","type":"nominal","scale":{"domain":["A","B"],"range":["#6ab04c","#dc1a14"]},"legend":null}}},
{"data":{"name":"tB"},"transform":[{"filter":"datum.k==='circ'"}],"mark":{"type":"text","font":"DejaVu Sans","fontWeight":"bold","fontSize":19,"align":"center","baseline":"middle","color":"#ffffff"},
"encoding":{"x":{"field":"mz","type":"quantitative","scale":{"domain":[500,9300],"nice":false,"zero":false},"axis":null},"y":{"field":"v","type":"quantitative","scale":{"domain":[0,100],"nice":false,"zero":false}},"text":{"field":"t"}}},
{"data":{"name":"tB"},"transform":[{"filter":"datum.k==='kda'"}],"mark":{"type":"text","font":"DejaVu Sans","fontWeight":"bold","fontSize":18,"align":"center","baseline":"alphabetic","color":"#000000"},
"encoding":{"x":{"field":"mz","type":"quantitative","scale":{"domain":[500,9300],"nice":false,"zero":false},"axis":null},"y":{"field":"v","type":"quantitative","scale":{"domain":[0,100],"nice":false,"zero":false}},"text":{"field":"t"}}},
{"data":{"name":"tB"},"transform":[{"filter":"datum.k==='ann'"}],"mark":{"type":"text","font":"Liberation Sans","fontWeight":"bold","fontSize":19,"align":"center","baseline":"alphabetic"},
"encoding":{"x":{"field":"mz","type":"quantitative","scale":{"domain":[500,9300],"nice":false,"zero":false},"axis":null},"y":{"field":"v","type":"quantitative","scale":{"domain":[0,100],"nice":false,"zero":false}},"text":{"field":"t"},
"color":{"field":"c","type":"nominal","scale":{"domain":["A","B","k"],"range":["#4e8f3c","#e3262b","#000000"]},"legend":null}}},
{"data":{"name":"tB"},"transform":[{"filter":"datum.k==='panel'"}],"mark":{"type":"text","font":"Liberation Sans","fontWeight":"normal","fontSize":28,"align":"center","baseline":"alphabetic","color":"#000000"},
"encoding":{"x":{"field":"mz","type":"quantitative","scale":{"domain":[500,9300],"nice":false,"zero":false},"axis":null},"y":{"field":"v","type":"quantitative","scale":{"domain":[0,100],"nice":false,"zero":false}},"text":{"field":"t"}}},
{"data":{"name":"tB"},"transform":[{"filter":"datum.k==='title'"}],"mark":{"type":"text","font":"DejaVu Sans","fontWeight":"bold","fontSize":23,"align":"left","baseline":"alphabetic","color":"#000000"},
"encoding":{"x":{"field":"mz","type":"quantitative","scale":{"domain":[500,9300],"nice":false,"zero":false},"axis":null},"y":{"field":"v","type":"quantitative","scale":{"domain":[0,100],"nice":false,"zero":false}},"text":{"field":"t"}}}
],
"resolve":{"scale":{"color":"independent"},"axis":{"x":"independent"}}
},
{
"width":537,"height":297,
"layer":[
{"data":{"name":"sC"},"mark":{"type":"line","strokeWidth":1.6},
"encoding":{
"x":{"field":"mz","type":"quantitative","scale":{"domain":[500,9300],"nice":false,"zero":false},"axis":{"values":[500,1000,1500,2000,2500,3000,3500,4000,4500,5000,5500,6000,6500,7000,7500,8000,8500,9000],"format":"d","labelExpr":"datum.value % 1000 === 0 ? datum.label : ''","labelFont":"Liberation Sans","labelFontWeight":"bold","labelFontSize":18,"labelColor":"#000","labelPadding":6,"labelOverlap":false,"labelFlush":false,"title":"m/z","titleFont":"DejaVu Sans","titleFontWeight":"bold","titleFontSize":20,"titleColor":"#000","titlePadding":0,"titleX":240,"tickSize":7,"tickWidth":1,"tickColor":"#000","domainColor":"#000","domainWidth":1.2}},
"y":{"field":"v","type":"quantitative","scale":{"domain":[0,100],"nice":false,"zero":false},"axis":{"values":[0,50,100],"format":"d","title":null,"domainWidth":2.5,"domainColor":"#000","tickWidth":2,"tickSize":4,"tickColor":"#000","labelFont":"Liberation Sans","labelFontWeight":"bold","labelFontSize":18,"labelColor":"#000","labelPadding":2}},
"color":{"field":"s","type":"nominal","scale":{"domain":["n1","n2","n3","n4","B2","A3","AB"],"range":["#000000","#000000","#000000","#000000","#e8141b","#3b7a3b","#1b1f7a"]},"legend":null}}},
{"data":{"name":"tC"},"transform":[{"filter":"datum.k==='circ'"}],"mark":{"type":"point","shape":"circle","filled":true,"opacity":1,"strokeWidth":0},
"encoding":{
"x":{"field":"mz","type":"quantitative","scale":{"domain":[500,9300],"nice":false,"zero":false},"axis":{"orient":"bottom","values":[500,600,700,800,900,1000,1100,1200,1300,1400,1500,1600,1700,1800,1900,2000,2100,2200,2300,2400,2500,2600,2700,2800,2900,3000,3100,3200,3300,3400,3500,3600,3700,3800,3900,4000,4100,4200,4300,4400,4500,4600,4700,4800,4900,5000,5100,5200,5300,5400,5500,5600,5700,5800,5900,6000,6100,6200,6300,6400,6500,6600,6700,6800,6900,7000,7100,7200,7300,7400,7500,7600,7700,7800,7900,8000,8100,8200,8300,8400,8500,8600,8700,8800,8900,9000,9100,9200,9300],"labels":false,"domain":false,"title":null,"tickSize":4,"tickWidth":0.9,"tickColor":"#000"}},
"y":{"field":"v","type":"quantitative","scale":{"domain":[0,100],"nice":false,"zero":false}},
"size":{"field":"kDa","type":"quantitative","scale":{"domain":[18.5,19.5],"range":[1225,2116],"clamp":true,"zero":false},"legend":null},
"color":{"field":"t","type":"nominal","scale":{"domain":["A","B"],"range":["#6ab04c","#dc1a14"]},"legend":null}}},
{"data":{"name":"tC"},"transform":[{"filter":"datum.k==='circ'"}],"mark":{"type":"text","font":"DejaVu Sans","fontWeight":"bold","fontSize":19,"align":"center","baseline":"middle","color":"#ffffff"},
"encoding":{"x":{"field":"mz","type":"quantitative","scale":{"domain":[500,9300],"nice":false,"zero":false},"axis":null},"y":{"field":"v","type":"quantitative","scale":{"domain":[0,100],"nice":false,"zero":false}},"text":{"field":"t"}}},
{"data":{"name":"tC"},"transform":[{"filter":"datum.k==='kda'"}],"mark":{"type":"text","font":"DejaVu Sans","fontWeight":"bold","fontSize":18,"align":"center","baseline":"alphabetic","color":"#000000"},
"encoding":{"x":{"field":"mz","type":"quantitative","scale":{"domain":[500,9300],"nice":false,"zero":false},"axis":null},"y":{"field":"v","type":"quantitative","scale":{"domain":[0,100],"nice":false,"zero":false}},"text":{"field":"t"}}},
{"data":{"name":"tC"},"transform":[{"filter":"datum.k==='ann'"}],"mark":{"type":"text","font":"Liberation Sans","fontWeight":"bold","fontSize":19,"align":"center","baseline":"alphabetic"},
"encoding":{"x":{"field":"mz","type":"quantitative","scale":{"domain":[500,9300],"nice":false,"zero":false},"axis":null},"y":{"field":"v","type":"quantitative","scale":{"domain":[0,100],"nice":false,"zero":false}},"text":{"field":"t"},
"color":{"field":"c","type":"nominal","scale":{"domain":["A","B","k"],"range":["#4e8f3c","#e3262b","#000000"]},"legend":null}}},
{"data":{"name":"tC"},"transform":[{"filter":"datum.k==='panel'"}],"mark":{"type":"text","font":"Liberation Sans","fontWeight":"normal","fontSize":28,"align":"center","baseline":"alphabetic","color":"#000000"},
"encoding":{"x":{"field":"mz","type":"quantitative","scale":{"domain":[500,9300],"nice":false,"zero":false},"axis":null},"y":{"field":"v","type":"quantitative","scale":{"domain":[0,100],"nice":false,"zero":false}},"text":{"field":"t"}}},
{"data":{"name":"tC"},"transform":[{"filter":"datum.k==='title'"}],"mark":{"type":"text","font":"DejaVu Sans","fontWeight":"bold","fontSize":23,"align":"left","baseline":"alphabetic","color":"#000000"},
"encoding":{"x":{"field":"mz","type":"quantitative","scale":{"domain":[500,9300],"nice":false,"zero":false},"axis":null},"y":{"field":"v","type":"quantitative","scale":{"domain":[0,100],"nice":false,"zero":false}},"text":{"field":"t"}}}
],
"resolve":{"scale":{"color":"independent"},"axis":{"x":"independent"}}
}
]
}
]
}
